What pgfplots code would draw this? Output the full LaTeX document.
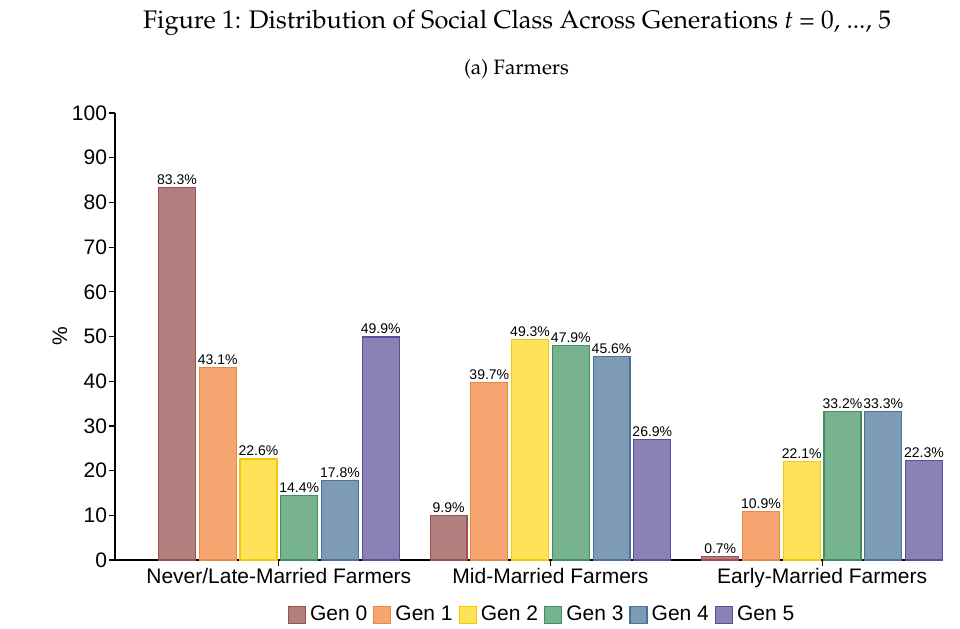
\documentclass[border=0pt]{standalone}
\usepackage[T1]{fontenc}
\usepackage{fontspec}
\setsansfont{Liberation Sans}
\usepackage{pgfplots}
\pgfplotsset{compat=1.18}
\definecolor{c0f}{HTML}{B17F7D}\definecolor{c0e}{HTML}{9E4F50}
\definecolor{c1f}{HTML}{F5A570}\definecolor{c1e}{HTML}{EC8640}
\definecolor{c2f}{HTML}{FEE35A}\definecolor{c2e}{HTML}{F5C800}
\definecolor{c3f}{HTML}{77B38F}\definecolor{c3e}{HTML}{3F8F5F}
\definecolor{c4f}{HTML}{7D9BB5}\definecolor{c4e}{HTML}{4C7196}
\definecolor{c5f}{HTML}{8882B5}\definecolor{c5e}{HTML}{5B4D9B}
\newcommand{\pal}{\fontencoding{T1}\fontfamily{ppl}\selectfont}
\begin{document}
\begin{tikzpicture}[x=1pt,y=1pt]
\path[use as bounding box] (-57.5,-34) rectangle (422.5,280);
\node[font=\pal\fontsize{12.7}{14}\selectfont] at (201,268.5) {Figure 1: Distribution of Social Class Across Generations {\itshape t} = 0, ..., 5};
\node[font=\pal\fontsize{10.4}{12}\selectfont] at (200.75,245.5) {(a) Farmers};
\begin{axis}[
  at={(0,0)}, anchor=south west,
  scale only axis, width=414pt, height=223.5pt,
  xmin=-0.603, xmax=2.445, ymin=0, ymax=100,
  axis x line*=bottom, axis y line*=left,
  axis line style={line width=0.6pt, -},
  font=\sffamily\fontsize{10.5}{12}\selectfont,
  /pgf/number format/assume math mode=true,
  xtick={0,1,2},
  xticklabels={Never/Late-Married Farmers, Mid-Married Farmers, Early-Married Farmers},
  ytick={0,10,...,100},
  tick align=outside, major tick length=3pt,
  tick style={black, line width=0.6pt},
  yticklabel style={inner sep=0.8pt},
  xticklabel style={inner sep=1pt},
  ylabel={\%},
  every axis y label/.style={at={(rel axis cs:0,0.5)}, xshift=-27.5pt, rotate=90, anchor=center},
  ybar, bar width=0.136,
  nodes near coords={\pgfmathprintnumber[fixed,precision=1,fixed zerofill]{\pgfplotspointmeta}\%},
  every node near coord/.style={font=\sffamily\fontsize{7}{8}\selectfont, inner sep=1.2pt, anchor=south, black},
  legend style={at={(0.517,-0.123)}, anchor=center, draw=none, legend columns=6,
    font=\sffamily\fontsize{10.5}{12}\selectfont,
    /tikz/every even column/.append style={column sep=1pt}},
  legend image code/.code={\draw[#1] (0pt,-4.25pt) rectangle (8.5pt,4.25pt);},
]
\addplot[fill=c0f, draw=c0e, line width=0.6pt, bar shift=0pt] coordinates {(-0.375,83.3) (0.625,9.9) (1.625,0.7)};
\addplot[fill=c1f, draw=c1e, line width=0.6pt, bar shift=0pt] coordinates {(-0.225,43.1) (0.775,39.7) (1.775,10.9)};
\addplot[fill=c2f, draw=c2e, line width=0.6pt, bar shift=0pt] coordinates {(-0.075,22.6) (0.925,49.3) (1.925,22.1)};
\addplot[fill=c3f, draw=c3e, line width=0.6pt, bar shift=0pt] coordinates {(0.075,14.4) (1.075,47.9) (2.075,33.2)};
\addplot[fill=c4f, draw=c4e, line width=0.6pt, bar shift=0pt] coordinates {(0.225,17.8) (1.225,45.6) (2.225,33.3)};
\addplot[fill=c5f, draw=c5e, line width=0.6pt, bar shift=0pt] coordinates {(0.375,49.9) (1.375,26.9) (2.375,22.3)};
\legend{Gen 0, Gen 1, Gen 2, Gen 3, Gen 4, Gen 5}
\end{axis}
\end{tikzpicture}
\end{document}
